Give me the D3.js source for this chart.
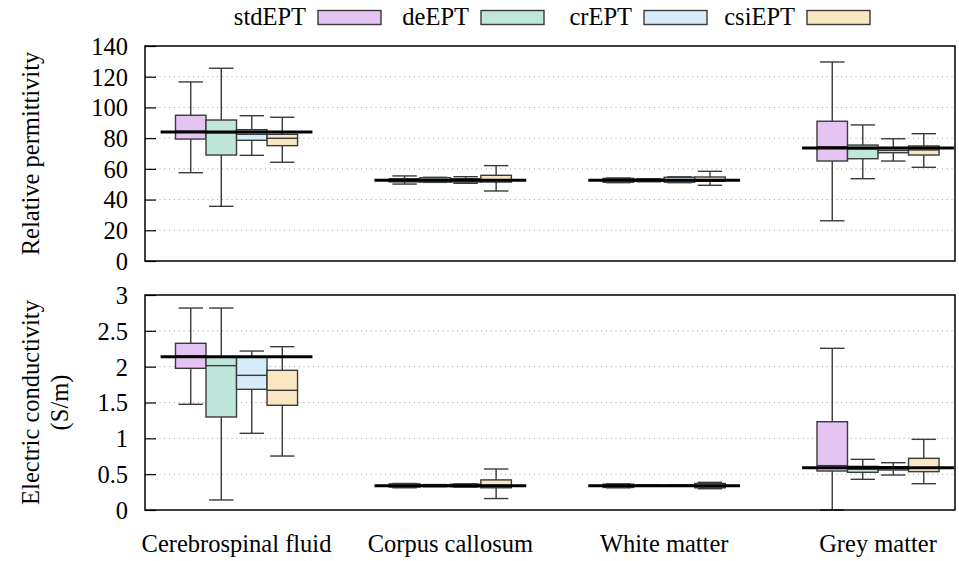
<!DOCTYPE html>
<html>
<head>
<meta charset="utf-8">
<script src="https://cdn.jsdelivr.net/npm/d3@7"></script>
<style>
  html, body { margin: 0; padding: 0; background: #fff; }
  svg { display: block; }
  svg text { font-family: "Liberation Serif", "Times New Roman", serif; }
</style>
</head>
<body>
<svg id="chart" width="959" height="561"></svg>
<script>
// Tissue categories and method names
const categories = ["Cerebrospinal fluid", "Corpus callosum", "White matter", "Grey matter"];
const methods = ["stdEPT", "deEPT", "crEPT", "csiEPT"];
const methodColors = ["#E5C3F3", "#BFE6DB", "#D6ECF8", "#F9E7C1"];

// Reference (literature) values per tissue
const permRef = [84.04, 52.53, 52.53, 73.52];
const condRef = [2.14, 0.34, 0.34, 0.59];

// Relative permittivity: [min, q1, median, q3, max] per tissue
const permStd = [[57.5, 79.4, 84.5, 94.9, 116.6], [50.1, 51.5, 52.5, 53.6, 55.4], [51.0, 51.3, 52.5, 53.8, 54.0], [26.2, 65.1, 74.4, 91.0, 129.6]];
const permDe  = [[35.6, 69.0, 83.5, 91.8, 125.5], [51.2, 51.4, 52.5, 54.2, 54.5], [51.6, 51.9, 52.5, 53.3, 53.6], [53.6, 66.6, 73.0, 75.5, 88.6]];
const permCr  = [[68.8, 78.6, 82.5, 85.5, 94.6], [50.6, 51.4, 52.5, 53.6, 54.9], [51.0, 51.3, 52.6, 54.5, 54.8], [65.1, 70.5, 72.0, 73.4, 79.6]];
const permCsi = [[64.3, 75.1, 79.9, 82.5, 93.6], [45.6, 51.4, 52.8, 55.8, 62.1], [49.3, 51.9, 52.8, 54.7, 58.4], [61.0, 69.0, 72.3, 74.9, 82.9]];

// Electric conductivity (S/m): [min, q1, median, q3, max] per tissue
const condStd = [[1.475, 1.977, 2.15, 2.326, 2.818], [0.31, 0.32, 0.34, 0.365, 0.37], [0.31, 0.315, 0.34, 0.36, 0.365], [0.0, 0.544, 0.619, 1.232, 2.256]];
const condDe  = [[0.14, 1.298, 2.014, 2.13, 2.818], [0.325, 0.33, 0.34, 0.35, 0.355], [0.335, 0.338, 0.34, 0.345, 0.348], [0.428, 0.526, 0.57, 0.609, 0.707]];
const condCr  = [[1.07, 1.684, 1.879, 2.13, 2.218], [0.32, 0.325, 0.34, 0.36, 0.365], [0.335, 0.337, 0.34, 0.345, 0.348], [0.488, 0.558, 0.58, 0.604, 0.66]];
const condCsi = [[0.753, 1.461, 1.67, 1.949, 2.279], [0.16, 0.31, 0.345, 0.42, 0.572], [0.297, 0.31, 0.34, 0.37, 0.386], [0.367, 0.535, 0.59, 0.721, 0.986]];

// Axis ticks
const permTicks = [0, 20, 40, 60, 80, 100, 120, 140];
const condTicks = [0, 0.5, 1, 1.5, 2, 2.5, 3];

const svg = d3.select("#chart");
const fontSize = 24.5;
const serif = "Liberation Serif, Times New Roman, serif";

const left = 145, right = 955;
const x = d3.scaleLinear().domain([0.572, 4.36]).range([left, right]);
const boxW = 0.1427;      // width of one box in category units
const refHalf = 0.355;    // half length of reference line

const panels = [
  { top: 46, bottom: 261, domain: [0, 140], ticks: permTicks, fmt: d3.format("d"),
    series: [permStd, permDe, permCr, permCsi], ref: permRef, title: ["Relative permittivity"] },
  { top: 295, bottom: 510, domain: [0, 3], ticks: condTicks, fmt: d => String(d),
    series: [condStd, condDe, condCr, condCsi], ref: condRef, title: ["Electric conductivity", "(S/m)"] }
];

panels.forEach(p => {
  const y = d3.scaleLinear().domain(p.domain).range([p.bottom, p.top]);
  const g = svg.append("g");

  // dotted grid
  g.selectAll("line.grid").data(p.ticks.filter(t => t > p.domain[0] && t < p.domain[1]))
    .enter().append("line")
    .attr("x1", left).attr("x2", right)
    .attr("y1", d => y(d)).attr("y2", d => y(d))
    .attr("stroke", "#a8a8a8").attr("stroke-width", 1)
    .attr("stroke-dasharray", "1.2,3.6");

  // left axis with inward ticks
  const axis = d3.axisLeft(y).tickValues(p.ticks).tickFormat(p.fmt).tickSize(-11).tickPadding(18);
  const ag = g.append("g").attr("transform", `translate(${left},0)`).call(axis);
  ag.attr("font-family", serif).attr("font-size", fontSize);
  ag.select(".domain").remove();
  ag.selectAll(".tick line").attr("stroke", "#000").attr("stroke-width", 1.2);
  ag.selectAll(".tick text")
    .attr("font-size", fontSize).attr("font-family", serif)
    .attr("fill", "#000").attr("x", -17).attr("dy", "0.34em");

  // boxes
  p.series.forEach((ser, si) => {
    ser.forEach((s, ci) => {
      const cx = (ci + 1) + (si - 2) * boxW;   // left edge of box in category units
      const x0 = x(cx), x1 = x(cx + boxW);
      const xm = (x0 + x1) / 2;
      const capHalf = (x1 - x0) * 0.4;
      const [mn, q1, md, q3, mx] = s;
      const wg = g.append("g").attr("stroke", "#3a3a3a").attr("stroke-width", 1.4).attr("fill", "none");
      // whiskers
      wg.append("line").attr("x1", xm).attr("x2", xm).attr("y1", y(q3)).attr("y2", y(mx));
      wg.append("line").attr("x1", xm).attr("x2", xm).attr("y1", y(q1)).attr("y2", y(mn));
      wg.append("line").attr("x1", xm - capHalf).attr("x2", xm + capHalf).attr("y1", y(mx)).attr("y2", y(mx));
      wg.append("line").attr("x1", xm - capHalf).attr("x2", xm + capHalf).attr("y1", y(mn)).attr("y2", y(mn));
      // box
      wg.append("rect").attr("x", x0).attr("width", x1 - x0)
        .attr("y", y(q3)).attr("height", Math.max(0.5, y(q1) - y(q3)))
        .attr("fill", methodColors[si]);
      // median
      wg.append("line").attr("x1", x0).attr("x2", x1).attr("y1", y(md)).attr("y2", y(md));
    });
  });

  // reference values
  g.selectAll("line.ref").data(p.ref).enter().append("line")
    .attr("x1", (d, i) => x(i + 1 - refHalf)).attr("x2", (d, i) => x(i + 1 + refHalf))
    .attr("y1", d => y(d)).attr("y2", d => y(d))
    .attr("stroke", "#000").attr("stroke-width", 3);

  // frame
  g.append("rect").attr("x", left).attr("y", p.top)
    .attr("width", right - left).attr("height", p.bottom - p.top)
    .attr("fill", "none").attr("stroke", "#000").attr("stroke-width", 1.5);

  // y title
  const cy = (p.top + p.bottom) / 2;
  const n = p.title.length;
  p.title.forEach((t, i) => {
    const tx = n === 1 ? 30 : 30 + i * 29;
    svg.append("text")
      .attr("transform", `translate(${tx},${cy}) rotate(-90)`)
      .attr("text-anchor", "middle").attr("dy", "0.35em")
      .attr("font-family", serif).attr("font-size", fontSize).text(t);
  });
});

// category labels
svg.selectAll("text.cat").data(categories).enter().append("text")
  .attr("x", (d, i) => x(i + 1)).attr("y", 552)
  .attr("text-anchor", "middle").attr("font-family", serif).attr("font-size", fontSize).text(d => d);

// legend
const legend = svg.append("g");
methods.forEach((m, i) => {
  const sx = 318 + i * 163;
  legend.append("text").attr("x", sx - 12).attr("y", 25)
    .attr("text-anchor", "end").attr("font-family", serif).attr("font-size", fontSize).text(m);
  legend.append("rect").attr("x", sx).attr("y", 10.5).attr("width", 63).attr("height", 14)
    .attr("fill", methodColors[i]).attr("stroke", "#3a3a3a").attr("stroke-width", 1.4);
});
</script>
</body>
</html>
